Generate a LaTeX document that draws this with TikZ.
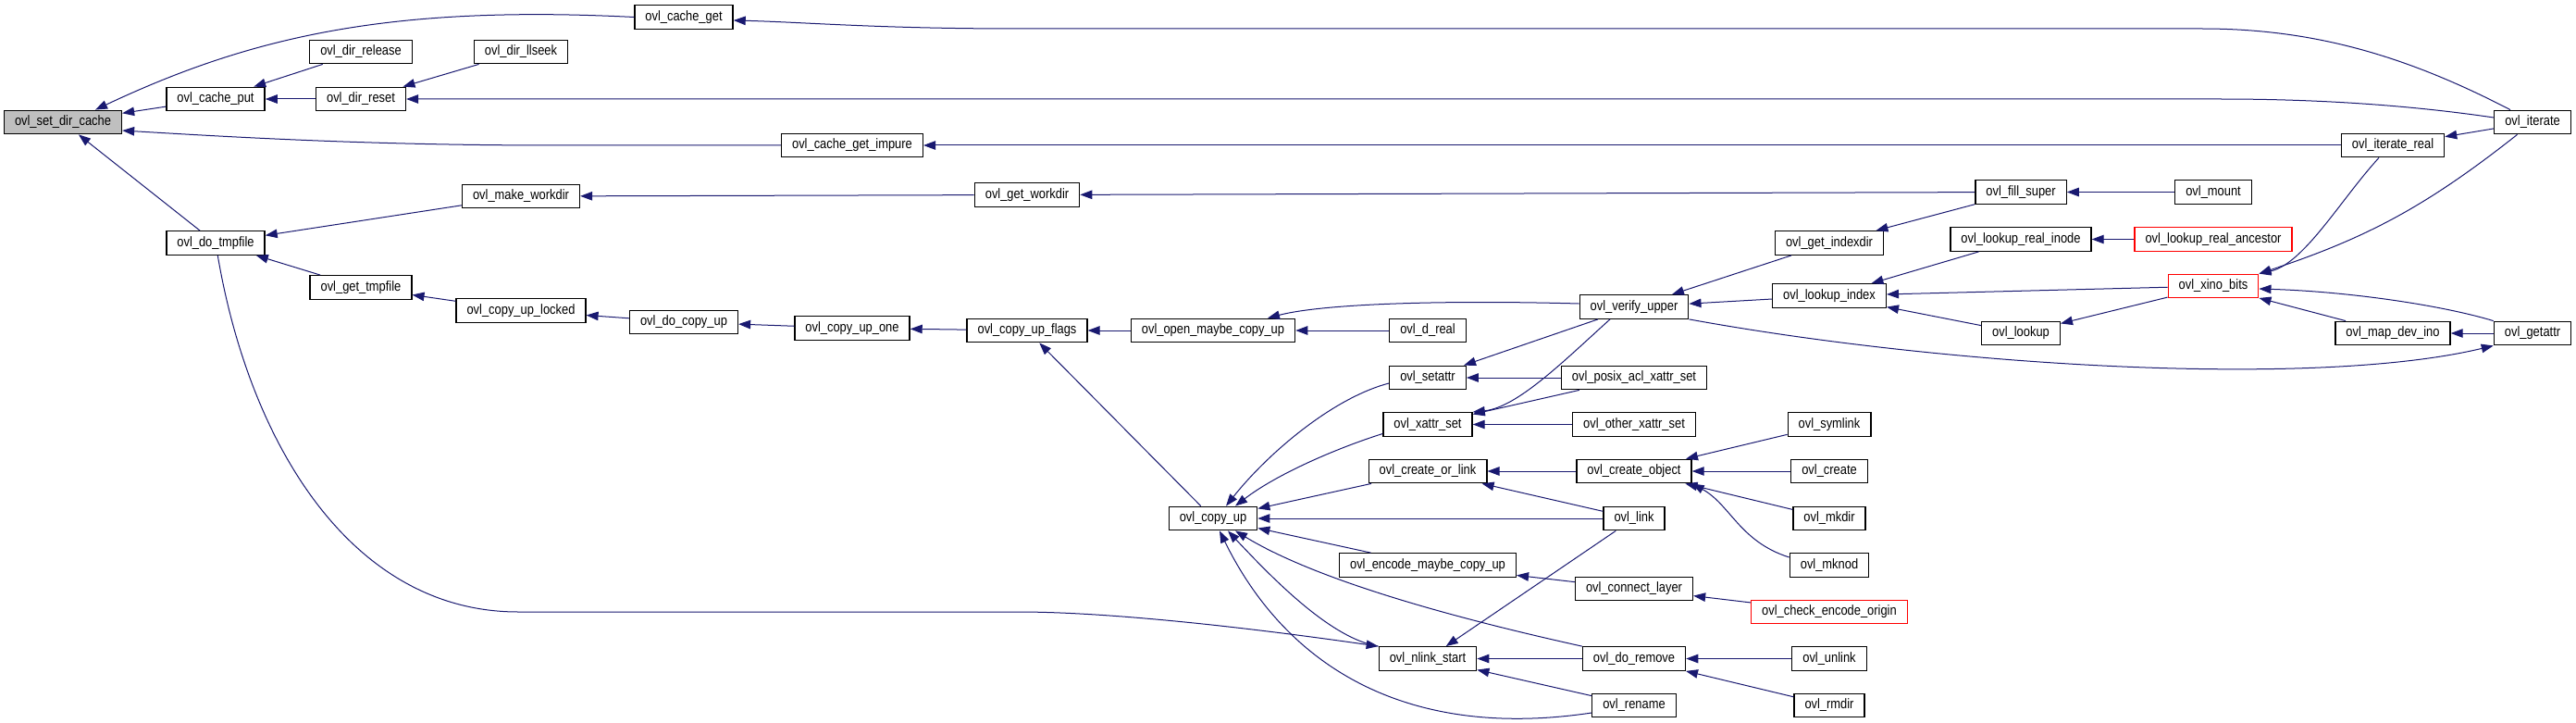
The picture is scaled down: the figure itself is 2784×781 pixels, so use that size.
\documentclass[tikz,border=0pt]{standalone}
\usepackage{fontspec}
\setmainfont{Liberation Sans}
\newfontfamily\dotfont{Liberation Sans}[FakeStretch=0.86]
\usetikzlibrary{arrows.meta}
\definecolor{edgeBlue}{RGB}{25,25,112}
\definecolor{rootGray}{RGB}{191,191,191}

\begin{document}
\begin{tikzpicture}[
  x=1pt, y=-1pt,
  fn/.style={draw=black, fill=white, line width=1.3pt, inner xsep=11.5pt, inner ysep=0pt,
    minimum height=25.5pt, font=\dotfont\fontsize{15}{16}\selectfont},
  root/.style={fn, fill=rootGray},
  trunc/.style={fn, draw=red},
  call/.style={draw=edgeBlue, line width=1pt, -{Triangle[length=13pt, width=9.5pt]}},
]
  \useasboundingbox (0,0) rectangle (2784,781);

  \node[root] (setdircache) at (68,132) {ovl\_set\_dir\_cache};
  \node[fn] (cacheget) at (739,18.5) {ovl\_cache\_get};
  \node[fn] (cacheput) at (233,107) {ovl\_cache\_put};
  \node[fn] (dirrelease) at (390,56) {ovl\_dir\_release};
  \node[fn] (dirreset) at (390,107) {ovl\_dir\_reset};
  \node[fn] (dirllseek) at (563,56) {ovl\_dir\_llseek};
  \node[fn] (cachegetimpure) at (921,157) {ovl\_cache\_get\_impure};
  \node[fn] (dotmpfile) at (233,262.5) {ovl\_do\_tmpfile};
  \node[fn] (makeworkdir) at (563,212) {ovl\_make\_workdir};
  \node[fn] (getworkdir) at (1110,210.5) {ovl\_get\_workdir};
  \node[fn] (gettmpfile) at (390,310.5) {ovl\_get\_tmpfile};
  \node[fn] (copyuplocked) at (563,335.5) {ovl\_copy\_up\_locked};
  \node[fn] (docopyup) at (739,348) {ovl\_do\_copy\_up};
  \node[fn] (copyupone) at (921,354.5) {ovl\_copy\_up\_one};
  \node[fn] (copyupflags) at (1110,357) {ovl\_copy\_up\_flags};
  \node[fn] (openmaybe) at (1311,357) {ovl\_open\_maybe\_copy\_up};
  \node[fn] (copyup) at (1311,560) {ovl\_copy\_up};
  \node[fn] (dreal) at (1543,357) {ovl\_d\_real};
  \node[fn] (setattr) at (1543,408) {ovl\_setattr};
  \node[fn] (xattrset) at (1543,458.5) {ovl\_xattr\_set};
  \node[fn] (createorlink) at (1543,509) {ovl\_create\_or\_link};
  \node[fn] (encodemaybe) at (1543,610.5) {ovl\_encode\_maybe\_copy\_up};
  \node[fn] (nlinkstart) at (1543,711.5) {ovl\_nlink\_start};
  \node[fn] (verifyupper) at (1766,331.5) {ovl\_verify\_upper};
  \node[fn] (posixacl) at (1766,408) {ovl\_posix\_acl\_xattr\_set};
  \node[fn] (otherxattr) at (1766,458.5) {ovl\_other\_xattr\_set};
  \node[fn] (createobject) at (1766,509) {ovl\_create\_object};
  \node[fn] (link) at (1766,560) {ovl\_link};
  \node[fn] (connectlayer) at (1766,636) {ovl\_connect\_layer};
  \node[fn] (doremove) at (1766,711.5) {ovl\_do\_remove};
  \node[fn] (rename) at (1766,762) {ovl\_rename};
  \node[fn] (getindexdir) at (1977,262.5) {ovl\_get\_indexdir};
  \node[fn] (lookupindex) at (1977,319.5) {ovl\_lookup\_index};
  \node[fn] (symlink) at (1977,458.5) {ovl\_symlink};
  \node[fn] (create) at (1977,509) {ovl\_create};
  \node[fn] (mkdir) at (1977,560) {ovl\_mkdir};
  \node[fn] (mknod) at (1977,610.5) {ovl\_mknod};
  \node[trunc] (checkencode) at (1977,661) {ovl\_check\_encode\_origin};
  \node[fn] (unlink) at (1977,711.5) {ovl\_unlink};
  \node[fn] (rmdir) at (1977,762) {ovl\_rmdir};
  \node[fn] (fillsuper) at (2184,207.5) {ovl\_fill\_super};
  \node[fn] (lookuprealinode) at (2184,258.5) {ovl\_lookup\_real\_inode};
  \node[fn] (lookup) at (2184,360) {ovl\_lookup};
  \node[fn] (mount) at (2392,207.5) {ovl\_mount};
  \node[trunc] (lookuprealanc) at (2392,258.5) {ovl\_lookup\_real\_ancestor};
  \node[trunc] (xinobits) at (2392,309) {ovl\_xino\_bits};
  \node[fn] (iteratereal) at (2586,157) {ovl\_iterate\_real};
  \node[fn] (mapdevino) at (2586,360) {ovl\_map\_dev\_ino};
  \node[fn] (iterate) at (2737,132) {ovl\_iterate};
  \node[fn] (getattr) at (2737,360) {ovl\_getattr};

  \draw[call] (cacheget.west) .. controls (420,5) and (270,40) .. ([xshift=35pt]setdircache.north);
  \draw[call] (cacheput) -- (setdircache);
  \draw[call] (cachegetimpure.west) -- (600,157) .. controls (400,157) and (250,148) .. ([yshift=-9pt]setdircache.east);
  \draw[call] (dotmpfile) -- (setdircache);
  \draw[call] (dirrelease) -- (cacheput);
  \draw[call] (dirreset) -- (cacheput);
  \draw[call] (dirllseek) -- (dirreset);
  \draw[call] ([yshift=5pt]iterate.west) .. controls (2600,113) and (2500,107) .. (2400,107) -- (dirreset.east);
  \draw[call] ([xshift=-24pt]iterate.north) .. controls (2600,60) and (2500,31) .. (2380,31) -- (1100,31)
    .. controls (950,31) and (870,24) .. ([yshift=-3.5pt]cacheget.east);
  \draw[call] (iteratereal) -- (cachegetimpure);
  \draw[call] (iterate) -- (iteratereal);
  \draw[call] (makeworkdir) -- (dotmpfile);
  \draw[call] (getworkdir) -- (makeworkdir);
  \draw[call] (fillsuper) -- (getworkdir);
  \draw[call] (mount) -- (fillsuper);
  \draw[call] (gettmpfile) -- (dotmpfile);
  \draw[call] (copyuplocked) -- (gettmpfile);
  \draw[call] (docopyup) -- (copyuplocked);
  \draw[call] (copyupone) -- (docopyup);
  \draw[call] (copyupflags) -- (copyupone);
  \draw[call] (openmaybe) -- (copyupflags);
  \draw[call] (dreal) -- (openmaybe);
  \draw[call] ([yshift=3.5pt]verifyupper.west) .. controls (1560,324) and (1430,328) .. ([xshift=59pt]openmaybe.north);
  \draw[call] (copyup) -- (copyupflags);
  \draw[call] (dotmpfile) .. controls (270,480) and (380,661) .. (560,661) -- (1100,661)
    .. controls (1200,661) and (1350,678) .. (nlinkstart.north west);

  \draw[call] (getindexdir) -- (verifyupper);
  \draw[call] (lookupindex) -- (verifyupper);
  \draw[call] (fillsuper) -- (getindexdir);
  \draw[call] (lookuprealinode) -- (lookupindex);
  \draw[call] (xinobits) -- (lookupindex);
  \draw[call] (lookup) -- (lookupindex);
  \draw[call] (lookuprealanc) -- (lookuprealinode);
  \draw[call] (xinobits) -- (lookup);
  \draw[call] ([xshift=-15pt]iteratereal.south) .. controls (2530,215) and (2490,285) .. (xinobits.north east);
  \draw[call] (iterate) to[bend left=10] (xinobits.north east);
  \draw[call] (getattr.north west) .. controls (2640,330) and (2540,315) .. ([yshift=-3pt]xinobits.east);
  \draw[call] (mapdevino) -- (xinobits);
  \draw[call] (getattr) -- (mapdevino);
  \draw[call] (verifyupper.south east) .. controls (2100,395) and (2500,420) .. (getattr.south west);

  \draw[call] (verifyupper) -- (setattr);
  \draw[call] ([xshift=-26pt]verifyupper.south) .. controls (1690,390) and (1640,440) .. (xattrset.north east);
  \draw[call] (posixacl) -- (setattr);
  \draw[call] (posixacl) -- (xattrset);
  \draw[call] (otherxattr) -- (xattrset);
  \draw[call] ([yshift=-6pt]setattr.west) .. controls (1440,430) and (1370,490) .. ([xshift=14pt]copyup.north);
  \draw[call] ([yshift=-10pt]xattrset.west) .. controls (1445,484) and (1380,512) .. ([xshift=24pt]copyup.north);
  \draw[call] (createorlink) -- (copyup);
  \draw[call] (link) -- (copyup);
  \draw[call] (encodemaybe) -- (copyup);
  \draw[call] (doremove.north west) .. controls (1560,665) and (1420,625) .. ([xshift=24pt]copyup.south);
  \draw[call] (nlinkstart.north west) .. controls (1440,690) and (1380,630) .. ([xshift=16pt]copyup.south);
  \draw[call] ([yshift=-8pt]rename.west) .. controls (1520,800) and (1390,720) .. ([xshift=7pt]copyup.south);

  \draw[call] (createobject) -- (createorlink);
  \draw[call] (link) -- (createorlink);
  \draw[call] (symlink) -- (createobject);
  \draw[call] (create) -- (createobject);
  \draw[call] (mkdir) -- (createobject);
  \draw[call] ([yshift=8.5pt]mknod.west) .. controls (1880,585) and (1870,545) .. (createobject.south east);
  \draw[call] (connectlayer) -- (encodemaybe);
  \draw[call] (checkencode) -- (connectlayer);
  \draw[call] (link) -- (nlinkstart);
  \draw[call] (doremove) -- (nlinkstart);
  \draw[call] (rename) -- (nlinkstart);
  \draw[call] (unlink) -- (doremove);
  \draw[call] (rmdir) -- (doremove);
\end{tikzpicture}
\end{document}
